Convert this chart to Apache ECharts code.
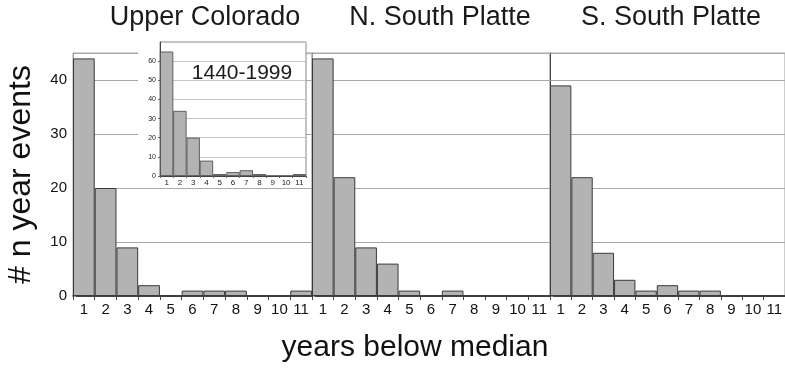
<!DOCTYPE html>
<html>
<head>
<meta charset="utf-8">
<script src="https://cdn.jsdelivr.net/npm/echarts@6/dist/echarts.min.js"></script>
<style>
  html, body { margin: 0; padding: 0; background: #fff; }
  #chart { width: 785px; height: 368px; }
</style>
</head>
<body>
<div id="chart"></div>
<script>
const categories = ['1', '2', '3', '4', '5', '6', '7', '8', '9', '10', '11']
const panelTitles = ['Upper Colorado', 'N. South Platte', 'S. South Platte']
const upperColorado = [44, 20, 9, 2, 0, 1, 1, 1, 0, 0, 1]
const northSouthPlatte = [44, 22, 9, 6, 1, 0, 1, 0, 0, 0, 0]
const southSouthPlatte = [39, 22, 8, 3, 1, 2, 1, 1, 0, 0, 0]
const insetValues = [65, 34, 20, 8, 1, 2, 3, 1, 0, 0, 1]
const insetTitle = '1440-1999'

const chart = echarts.init(document.getElementById('chart'))

const font = "'Liberation Sans', Arial, sans-serif"
const barFill = '#b3b3b3'
const barEdge = '#3a3a3a'
const gridColor = '#a8a8a8'

// main panels
const panels = [
  { left: 73, width: 239, data: upperColorado },
  { left: 312, width: 238, data: northSouthPlatte },
  { left: 550, width: 236, data: southSouthPlatte }
]

const grids = panels.map(p => ({
  left: p.left, width: p.width, top: 53, height: 243,
  show: true, borderColor: gridColor, borderWidth: 1
}))
// inset
grids.push({
  left: 160, width: 146, top: 42, height: 134,
  show: true, borderColor: '#888', borderWidth: 1, backgroundColor: '#fff', z: 10
})

const xAxes = panels.map((p, i) => ({
  type: 'category',
  gridIndex: i,
  data: categories,
  boundaryGap: true,
  axisLine: { lineStyle: { color: '#222', width: 1.5 } },
  axisTick: { show: true, length: 4, lineStyle: { color: '#444' } },
  axisLabel: { color: '#111', fontSize: 15, fontFamily: font, margin: 6, interval: 0, hideOverlap: false },
  name: i === 1 ? 'years below median' : '',
  nameLocation: 'middle',
  nameGap: 37,
  nameTextStyle: { fontSize: 30, fontFamily: font, color: '#111', padding: [0, 32, 0, 0] }
}))
xAxes.push({
  type: 'category',
  gridIndex: 3,
  data: categories,
  boundaryGap: true,
  z: 11,
  axisLine: { lineStyle: { color: '#444' } },
  axisTick: { show: true, length: 2, lineStyle: { color: '#666' } },
  axisLabel: { color: '#222', fontSize: 8, fontFamily: font, margin: 3, interval: 0 }
})

const yAxes = panels.map((p, i) => ({
  type: 'value',
  gridIndex: i,
  min: 0,
  max: 45,
  interval: 10,
  axisLine: { show: true, lineStyle: { color: i === 2 ? '#444' : '#999' } },
  axisTick: { show: true, inside: true, length: 3, lineStyle: { color: '#999' } },
  minorTick: { show: true, splitNumber: 2, length: 3, lineStyle: { color: '#999' } },
  splitLine: { show: true, lineStyle: { color: gridColor } },
  axisLabel: {
    show: i === 0, color: '#111', fontSize: 15, fontFamily: font, margin: 6,
    showMaxLabel: false
  },
  name: i === 0 ? '# n year events' : '',
  nameLocation: 'middle',
  nameGap: 36,
  nameTextStyle: { fontSize: 32, fontFamily: font, color: '#111' }
}))
yAxes.push({
  type: 'value',
  gridIndex: 3,
  min: 0,
  max: 70,
  interval: 10,
  z: 11,
  axisLine: { show: true, lineStyle: { color: '#444' } },
  axisTick: { show: true, length: 2, lineStyle: { color: '#666' } },
  splitLine: { show: true, lineStyle: { color: '#c4c4c4' } },
  axisLabel: { color: '#222', fontSize: 7, fontFamily: font, margin: 4, showMaxLabel: false }
})

const barStyle = { color: barFill, borderColor: barEdge, borderWidth: 1 }

const series = panels.map((p, i) => ({
  type: 'bar',
  xAxisIndex: i,
  yAxisIndex: i,
  data: p.data,
  barCategoryGap: 0,
  itemStyle: barStyle,
  silent: true
}))
series.push({
  type: 'bar',
  xAxisIndex: 3,
  yAxisIndex: 3,
  data: insetValues,
  barCategoryGap: 0,
  z: 12,
  itemStyle: { color: barFill, borderColor: '#444', borderWidth: 0.8 },
  silent: true
})

const titleCenters = [205, 440, 671]
const option = {
  backgroundColor: '#fff',
  animation: false,
  title: panelTitles.map((t, i) => ({
    text: t,
    left: titleCenters[i],
    top: 4,
    padding: 0,
    textAlign: 'center',
    textStyle: { fontSize: 27, fontWeight: 'normal', fontFamily: font, color: '#1a1a1a' }
  })).concat([{
    text: insetTitle,
    left: 242,
    top: 63,
    padding: 0,
    textAlign: 'center',
    z: 20,
    textStyle: { fontSize: 21, fontWeight: 'normal', fontFamily: font, color: '#1a1a1a' }
  }]),
  graphic: [{
    type: 'rect',
    z: 5,
    shape: { x: 138, y: 42, width: 168, height: 146 },
    style: { fill: '#fff' }
  }],
  grid: grids,
  xAxis: xAxes,
  yAxis: yAxes,
  series: series
}

chart.setOption(option)
</script>
</body>
</html>
